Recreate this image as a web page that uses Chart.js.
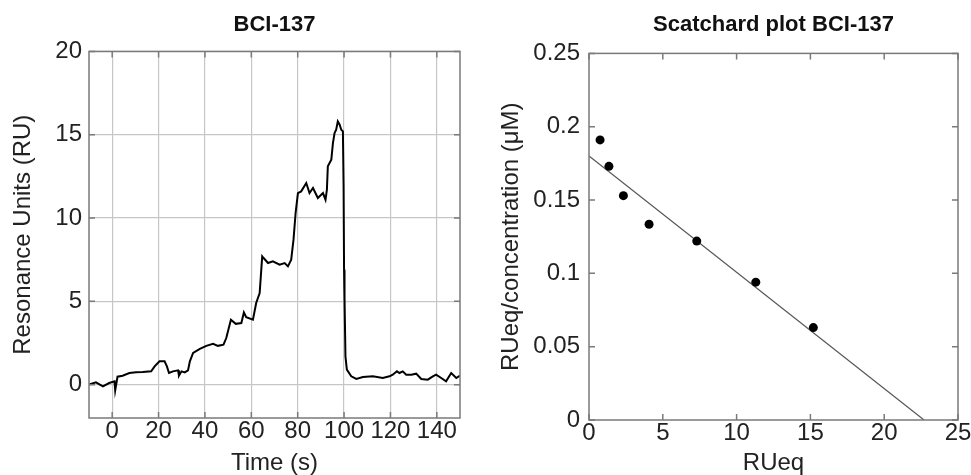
<!DOCTYPE html>
<html>
<head>
<meta charset="utf-8">
<script src="https://cdn.jsdelivr.net/npm/chart.js@4"></script>
<style>
  html, body { margin: 0; padding: 0; background: #fff; }
  #wrap { position: relative; width: 971px; height: 475px; }
  #sensorgram { position: absolute; left: 0; top: 0; }
  #scatchard { position: absolute; left: 485px; top: 0; }
</style>
</head>
<body>
<div id="wrap">
  <canvas id="sensorgram" width="485" height="475"></canvas>
  <canvas id="scatchard" width="486" height="475"></canvas>
</div>
<script>
// sensorgram: time (s) and response (RU)
const timeS = [
  -10, -7, -4, -1.3, 1, 1.3, 2.3, 4.5, 7.4, 10.3,
  13.2, 16.8, 18.3, 20.4, 22.6, 23.6, 24.5, 26.2, 28.4, 28.8,
  29.9, 31.3, 32.7, 33.5, 34.9, 37.8, 40.6, 43.5, 45.6, 48,
  49.2, 51.2, 53.3, 55.7, 56.8, 57.8, 60.7, 62.1, 63.6, 64.7,
  65.3, 67.2, 69.3, 72.2, 74.4, 75.8, 77.2, 78.2, 79.1, 80.1,
  81.5, 83.7, 85.1, 86.6, 88.7, 90.9, 92, 92.6, 93, 94.5,
  95.2, 95.9, 96.6, 97.3, 98.1, 98.8, 99.5, 99.8, 100, 100.2,
  100.6, 101.2, 103.1, 105.3, 108.1, 112.4, 116.7, 119.6, 121, 122.8,
  123.9, 125.3, 126.8, 129, 131.1, 133.3, 136.1, 138.3, 139.7, 141.9,
  144, 146.2, 148.4, 150
];
const responseRU = [
  0, 0.14, -0.1, 0.1, 0.2, -0.35, 0.48, 0.54, 0.7, 0.74,
  0.76, 0.8, 1.1, 1.4, 1.4, 1.1, 0.7, 0.8, 0.86, 0.54,
  0.8, 0.74, 0.86, 1.4, 1.9, 2.15, 2.33, 2.45, 2.33, 2.4,
  2.8, 3.9, 3.65, 3.7, 4.33, 4.05, 3.9, 4.9, 5.5, 7.7,
  7.6, 7.3, 7.4, 7.2, 7.3, 7.1, 7.5, 8.7, 10.3, 11.5,
  11.6, 12.1, 11.5, 11.8, 11.2, 11.5, 11.1, 11.7, 13.1, 13.5,
  14.5, 15.1, 15.3, 15.8, 15.6, 15.3, 15.2, 11.9, 6.9, 5.2,
  1.7, 0.9, 0.5, 0.34, 0.46, 0.5, 0.4, 0.5, 0.6, 0.8,
  0.7, 0.8, 0.6, 0.6, 0.66, 0.34, 0.3, 0.5, 0.6, 0.4,
  0.2, 0.7, 0.4, 0.55
];
const timeTicks = [0, 20, 40, 60, 80, 100, 120, 140];
const ruTicks = [0, 5, 10, 15, 20];

// scatchard: RUeq vs RUeq/concentration, plus the fitted line ends
const ruEq = [0.75, 1.35, 2.33, 4.07, 7.3, 11.3, 15.2];
const ruEqPerConc = [0.191, 0.173, 0.153, 0.1335, 0.122, 0.094, 0.063];
const fitX = [0, 22.7];
const fitY = [0.18, 0];
const ruEqTicks = [0, 5, 10, 15, 20, 25];
const ratioTicks = [0, 0.05, 0.1, 0.15, 0.2, 0.25];
const ratioLabels = ['0', '0.05', '0.1', '0.15', '0.2', '0.25'];

Chart.defaults.font.family = '"Liberation Sans", Arial, Helvetica, sans-serif';
Chart.defaults.color = '#222';

// box around the plot area with short inward tick marks
const framePlugin = {
  id: 'frame',
  afterDatasetsDraw(chart, args, opts) {
    const { ctx, chartArea: a, scales } = chart;
    ctx.save();
    ctx.strokeStyle = '#7a7a7a';
    ctx.lineWidth = 1.5;
    ctx.strokeRect(a.left, a.top, a.right - a.left, a.bottom - a.top);
    const len = opts.tickLen || 0;
    if (len) {
      ctx.beginPath();
      scales.x.ticks.forEach(t => {
        const x = scales.x.getPixelForValue(t.value);
        ctx.moveTo(x, a.bottom); ctx.lineTo(x, a.bottom - len);
        ctx.moveTo(x, a.top); ctx.lineTo(x, a.top + len);
      });
      scales.y.ticks.forEach(t => {
        const y = scales.y.getPixelForValue(t.value);
        ctx.moveTo(a.left, y); ctx.lineTo(a.left + len, y);
        ctx.moveTo(a.right, y); ctx.lineTo(a.right - len, y);
      });
      ctx.stroke();
    }
    ctx.restore();
  }
};

const tickFont = { size: 24 };
const axisTitleFont = { size: 24 };

new Chart(document.getElementById('sensorgram'), {
  type: 'scatter',
  data: {
    datasets: [{
      data: timeS.map((t, i) => ({ x: t, y: responseRU[i] })),
      showLine: true,
      borderColor: '#000',
      borderWidth: 2,
      pointRadius: 0,
      tension: 0
    }]
  },
  options: {
    responsive: false,
    animation: false,
    layout: { padding: { left: 0, right: 25, top: 0, bottom: 0 } },
    plugins: {
      legend: { display: false },
      tooltip: { enabled: false },
      title: {
        display: true, text: 'BCI-137', fullSize: false, color: '#111',
        font: { size: 22, weight: 'bold' }, padding: { top: 12, bottom: 13 }
      },
      frame: { tickLen: 6 }
    },
    scales: {
      x: {
        type: 'linear', min: -10, max: 150,
        afterBuildTicks: s => { s.ticks = timeTicks.map(v => ({ value: v })); },
        afterFit: s => { s.height = 57; },
        grid: { color: '#c6c6c6', lineWidth: 1.2, drawTicks: false },
        border: { display: false },
        ticks: { font: tickFont, padding: -1, maxRotation: 0, autoSkip: false },
        title: { display: true, text: 'Time (s)', font: axisTitleFont, padding: { top: 0, bottom: -3 } }
      },
      y: {
        type: 'linear', min: -2, max: 20,
        afterBuildTicks: s => { s.ticks = ruTicks.map(v => ({ value: v })); },
        afterFit: s => { s.width = 89; },
        grid: { color: '#c6c6c6', lineWidth: 1.2, drawTicks: false },
        border: { display: false },
        ticks: { font: tickFont, padding: 7, autoSkip: false },
        title: { display: true, text: 'Resonance Units (RU)', font: axisTitleFont, padding: { top: 9, bottom: 0 } }
      }
    }
  },
  plugins: [framePlugin]
});

new Chart(document.getElementById('scatchard'), {
  type: 'scatter',
  data: {
    datasets: [
      {
        data: ruEq.map((x, i) => ({ x: x, y: ruEqPerConc[i] })),
        backgroundColor: '#000',
        borderColor: '#000',
        pointRadius: 4.5,
        borderWidth: 0
      },
      {
        data: fitX.map((x, i) => ({ x: x, y: fitY[i] })),
        showLine: true,
        borderColor: '#555',
        borderWidth: 1.2,
        pointRadius: 0
      }
    ]
  },
  options: {
    responsive: false,
    animation: false,
    layout: { padding: { left: 0, right: 13, top: 0, bottom: 0 } },
    plugins: {
      legend: { display: false },
      tooltip: { enabled: false },
      title: {
        display: true, text: 'Scatchard plot BCI-137', fullSize: false, color: '#111',
        font: { size: 22, weight: 'bold' }, padding: { top: 12, bottom: 15 }
      },
      frame: { tickLen: 6 }
    },
    scales: {
      x: {
        type: 'linear', min: 0, max: 25,
        afterBuildTicks: s => { s.ticks = ruEqTicks.map(v => ({ value: v })); },
        afterFit: s => { s.height = 55; },
        grid: { display: false, drawTicks: false },
        border: { display: false },
        ticks: { font: tickFont, padding: -1, maxRotation: 0, autoSkip: false },
        title: { display: true, text: 'RUeq', font: axisTitleFont, padding: { top: 0, bottom: -3 } }
      },
      y: {
        type: 'linear', min: 0, max: 0.25,
        afterBuildTicks: s => { s.ticks = ratioTicks.map(v => ({ value: v })); },
        afterFit: s => { s.width = 104; },
        grid: { display: false, drawTicks: false },
        border: { display: false },
        ticks: { font: tickFont, padding: 9, autoSkip: false, callback: (v, i) => ratioLabels[i] },
        title: { display: true, text: 'RUeq/concentration (μM)', font: axisTitleFont, padding: { top: 12, bottom: 0 } }
      }
    }
  },
  plugins: [framePlugin]
});
</script>
</body>
</html>
